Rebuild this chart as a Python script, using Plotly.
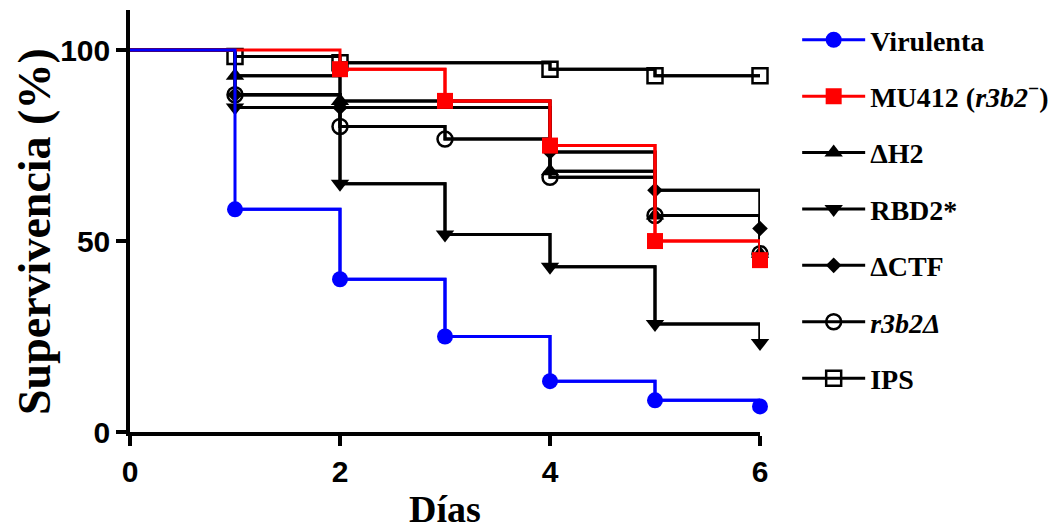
import plotly.graph_objects as go

# ---- data (days, survival %) ----
days_virulenta = [0, 1, 2, 3, 4, 5, 6]
surv_virulenta = [100, 58.3, 40, 25, 13.3, 8.3, 6.7]

days_mu412 = [0, 2, 3, 4, 5, 6]
surv_mu412 = [100, 95, 86.7, 75, 50, 45]

days_dh2 = [0, 1, 2, 4, 5, 6]
surv_dh2 = [100, 93.3, 86.7, 68.3, 56.7, 46.7]

days_rbd2 = [0, 1, 2, 3, 4, 5, 6]
surv_rbd2 = [100, 85, 65, 51.7, 43.3, 28.3, 23.3]

days_dctf = [0, 1, 2, 4, 5, 6]
surv_dctf = [100, 88.3, 85, 73.3, 63.3, 53.3]

days_r3b2 = [0, 1, 2, 3, 4, 5, 6]
surv_r3b2 = [100, 88.3, 80, 76.7, 66.7, 56.7, 46.7]

days_ips = [0, 1, 2, 4, 5, 6]
surv_ips = [100, 98.3, 96.7, 95, 93.3, 93.3]

x_ticks = [0, 2, 4, 6]
y_ticks = [0, 50, 100]

x_title = "Días"
y_title = "Supervivencia (%)"

names = {
    "virulenta": "Virulenta",
    "mu412": "MU412 (<i>r3b2</i><sup>−</sup>)",
    "dh2": "ΔH2",
    "rbd2": "RBD2*",
    "dctf": "ΔCTF",
    "r3b2": "<i>r3b2Δ</i>",
    "ips": "IPS",
}

# drawing order (bottom -> top), legend rank
series = [
    ("ips", days_ips, surv_ips, "black", "square-open", 15, 7),
    ("r3b2", days_r3b2, surv_r3b2, "black", "circle-open", 15, 6),
    ("dctf", days_dctf, surv_dctf, "black", "diamond", 12, 5),
    ("rbd2", days_rbd2, surv_rbd2, "black", "triangle-down", 16, 4),
    ("dh2", days_dh2, surv_dh2, "black", "triangle-up", 16, 3),
    ("mu412", days_mu412, surv_mu412, "#ff0000", "square", 16, 2),
    ("virulenta", days_virulenta, surv_virulenta, "#0000ff", "circle", 16, 1),
]

serif = "Liberation Serif, Times New Roman, serif"
sans = "Liberation Sans, Arial, sans-serif"

fig = go.Figure()
for key, d, s, col, sym, msize, rank in series:
    fig.add_trace(go.Scatter(
        x=d, y=s, mode="lines", line=dict(color=col, width=3, shape="hv"),
        legendgroup=key, showlegend=False, cliponaxis=False, hoverinfo="skip",
    ))
    is_open = sym.endswith("open")
    fig.add_trace(go.Scatter(
        x=d[1:], y=s[1:], mode="lines+markers", name=names[key],
        line=dict(color=col, width=3, shape="hv"),
        marker=dict(symbol=sym, size=msize, color=col,
                    line=dict(color=col, width=2.5 if is_open else 0)),
        legendgroup=key, legendrank=rank, cliponaxis=False,
    ))

axis_common = dict(
    showline=True, linecolor="black", linewidth=3.5,
    ticks="outside", ticklen=10, tickwidth=3.5, tickcolor="black",
    showgrid=False, zeroline=False, automargin=False,
    tickfont=dict(family=sans, size=30, color="black", weight="bold"),
)

# page body has an 8px margin, so the figure is drawn 8px smaller and offset
fig.update_layout(
    width=1052, height=520,
    margin=dict(l=122, r=300, t=2, b=96, autoexpand=False),
    plot_bgcolor="white", paper_bgcolor="white",
    showlegend=True,
    legend=dict(
        x=1.059, y=0.988, xanchor="left", yanchor="top",
        font=dict(family=serif, size=28, color="black", weight="bold"),
        tracegroupgap=17, itemwidth=63, bgcolor="rgba(0,0,0,0)",
    ),
    xaxis=dict(range=[0, 6], tickvals=x_ticks, ticktext=[str(v) for v in x_ticks], **axis_common),
    yaxis=dict(range=[0, 110.5], tickvals=y_ticks, ticktext=[str(v) for v in y_ticks], **axis_common),
    annotations=[
        dict(text=x_title, xref="paper", yref="paper", x=0.5, y=0, xanchor="center", yanchor="middle",
             yshift=-77, showarrow=False,
             font=dict(family=serif, size=38, color="black", weight="bold")),
        dict(text=y_title, xref="paper", yref="paper", x=0, y=0.474, xanchor="center", yanchor="middle",
             xshift=-95, textangle=-90, showarrow=False,
             font=dict(family=serif, size=46, color="black", weight="bold")),
    ],
)

fig.write_html("out.html")
